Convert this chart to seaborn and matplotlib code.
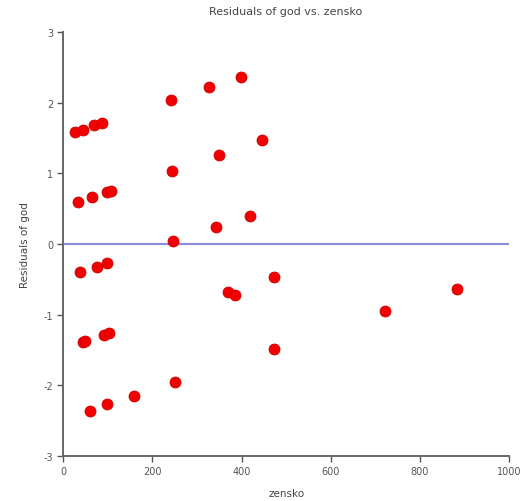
import matplotlib
matplotlib.use("Agg")
import matplotlib.pyplot as plt
import seaborn as sns
import pandas as pd

# Residuals of god against zensko
zensko = [26, 43.5, 70, 88, 241, 328, 399, 447, 349, 243,
          33, 64, 97, 107, 420, 343, 246,
          37.5, 75, 97, 472, 370, 386, 44, 48.6, 92, 103, 472,
          251, 158, 98, 59, 883, 723]
residuals = [1.59, 1.62, 1.68, 1.72, 2.035, 2.22, 2.365, 1.47, 1.26, 1.04,
             0.60, 0.67, 0.735, 0.75, 0.40, 0.236, 0.04,
             -0.39, -0.32, -0.27, -0.47, -0.68, -0.72, -1.39, -1.37, -1.28, -1.26, -1.48,
             -1.95, -2.15, -2.27, -2.36, -0.63, -0.95]
x_ticks = [0, 200, 400, 600, 800, 1000]
y_ticks = [-3, -2, -1, 0, 1, 2, 3]

df = pd.DataFrame({"zensko": zensko, "Residuals of god": residuals})

sns.set_theme(style="ticks")
plt.rcParams["font.family"] = ["DejaVu Sans"]
plt.rcParams["axes.unicode_minus"] = False

fig = plt.figure(figsize=(5.23, 5.02), dpi=100)
ax = fig.add_axes([0.121, 0.0896, 0.852, 0.8444])

ax.axhline(0, color="#8c8cdc", lw=1.5, zorder=1)
sns.scatterplot(data=df, x="zensko", y="Residuals of god", ax=ax,
                color="#f20000", edgecolor="#cc0000", linewidth=0.6,
                s=62, zorder=3)

ax.set_xlim(0, 1000)
ax.set_ylim(-3, 3)
ax.set_xticks(x_ticks)
ax.set_yticks(y_ticks)
ax.tick_params(axis="both", labelsize=7, colors="#555555", length=4, width=1,
               direction="out", pad=3)
for side in ("top", "right"):
    ax.spines[side].set_visible(False)
for side in ("left", "bottom"):
    ax.spines[side].set_color("#666666")
    ax.spines[side].set_linewidth(1.4)

ax.set_xlabel("zensko", fontsize=7.5, color="#444444", labelpad=9)
ax.set_ylabel("Residuals of god", fontsize=7.5, color="#444444", labelpad=10)
ax.set_title("Residuals of god vs. zensko", fontsize=8, color="#444444", pad=13)

fig.savefig("out.png", dpi=100, facecolor="white")
